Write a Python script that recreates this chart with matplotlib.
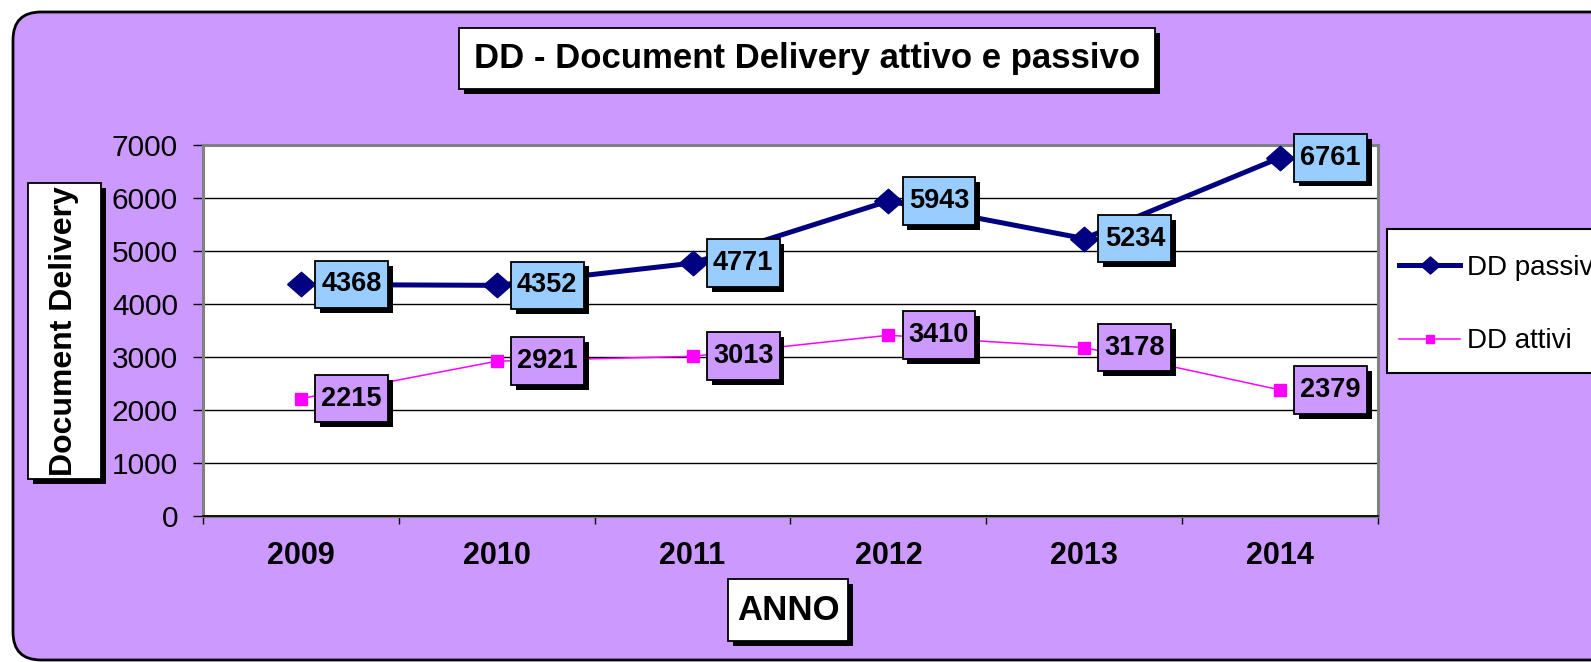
import matplotlib
matplotlib.use("Agg")
import matplotlib.pyplot as plt
from matplotlib.patches import FancyBboxPatch, Rectangle
from matplotlib.path import Path
from matplotlib.transforms import IdentityTransform
from matplotlib import patheffects

plt.rcParams['font.family'] = ['Liberation Sans', 'DejaVu Sans']

anni = ["2009", "2010", "2011", "2012", "2013", "2014"]
dd_passivi = [4368, 4352, 4771, 5943, 5234, 6761]
dd_attivi = [2215, 2921, 3013, 3410, 3178, 2379]
y_ticks = [0, 1000, 2000, 3000, 4000, 5000, 6000, 7000]

viola = "#CC99FF"
azzurro = "#99CCFF"
blu = "#000080"
magenta = "#FF00FF"
W, H = 1591, 662

# ombra nera come in excel
ombra = [patheffects.SimplePatchShadow(offset=(3.5, -3.5), shadow_rgbFace="black", alpha=1),
         patheffects.Normal()]


# box delle etichette: poco margine ai lati, di piu sopra e sotto
def box_excel(x0, y0, width, height, mutation_size):
    px = 0.23 * mutation_size
    py = 0.40 * mutation_size
    a, b = x0 - px, y0 - py
    c, d = x0 + width + px, y0 + height + py
    return Path([(a, b), (c, b), (c, d), (a, d), (a, b)], closed=True)


# riquadro bianco con ombra, coordinate in pixel dall'alto a sinistra
def box_text(fig, x0, y0, x1, y1, s, size, rotation=0):
    r = Rectangle((x0, H - y1), x1 - x0, y1 - y0, fc="white", ec="black", lw=1.3,
                  transform=IdentityTransform(), zorder=3)
    r.set_path_effects(ombra)
    fig.add_artist(r)
    fig.text((x0 + x1) / 2 / W, 1 - (y0 + y1) / 2 / H, s, fontsize=size, fontweight="bold",
             ha="center", va="center", rotation=rotation, zorder=4)


fig = plt.figure(figsize=(W / 100, H / 100), dpi=100)
fig.patch.set_facecolor("white")

# sfondo arrotondato (esce a destra come nell'originale)
sfondo = FancyBboxPatch((13, 2), 1700, 648, boxstyle="round,pad=0,rounding_size=28",
                        fc=viola, ec="black", lw=2, transform=IdentityTransform(), zorder=-5)
fig.patches.append(sfondo)

ax = fig.add_axes([203 / W, 1 - 516 / H, 1175 / W, 371 / H])
ax.set_facecolor("white")

x = list(range(len(anni)))
rombo = [(-1, 0), (0, 0.88), (1, 0), (0, -0.88), (-1, 0)]
ax.plot(x, dd_passivi, color=blu, lw=3.6, marker=rombo, ms=20, mec=blu, label="DD passivi", zorder=4)
ax.plot(x, dd_attivi, color=magenta, lw=1.1, marker="s", ms=9, mec=magenta, label="DD attivi", zorder=4)

for i in x:
    for v, col in ((dd_passivi[i], azzurro), (dd_attivi[i], viola)):
        t = ax.annotate(str(v), (i, v), xytext=(36.4, 0), textcoords="offset points",
                        ha="center", va="center", fontsize=19.5, fontweight="bold",
                        bbox=dict(boxstyle=box_excel, fc=col, ec="black", lw=1.3),
                        zorder=6, annotation_clip=False)
        t.get_bbox_patch().set_path_effects(ombra)

ax.set_xlim(-0.5, 5.5)
ax.set_ylim(0, 7000)
ax.set_yticks(y_ticks)
ax.tick_params(axis="y", labelsize=21.5, length=7, width=1, pad=11, color="black")
ax.yaxis.grid(True, color="black", lw=1.0)
ax.set_axisbelow(True)

# tick tra le categorie, etichette al centro
ax.set_xticks([i - 0.5 for i in range(len(anni) + 1)])
ax.set_xticklabels([])
ax.set_xticks(x, minor=True)
ax.set_xticklabels(anni, minor=True, fontsize=22, fontweight="bold")
ax.tick_params(axis="x", which="major", length=6, width=1, color="black")
ax.tick_params(axis="x", which="minor", length=0, pad=18)

for s in ax.spines.values():
    s.set_color("#808080")
    s.set_linewidth(2.2)
ax.axhline(0, color="black", lw=1.2, clip_on=False, zorder=5)

# cornice della legenda disegnata a parte, sotto gli assi
cornice = Rectangle((1387, H - 373), 400, 144, fc="white", ec="black", lw=1.5,
                    transform=IdentityTransform(), zorder=-1)
fig.add_artist(cornice)
leg = ax.legend(loc="upper left", bbox_to_anchor=(1399 / W, 1 - 255 / H),
                bbox_transform=fig.transFigure, borderaxespad=0, borderpad=0, fontsize=20,
                frameon=False, labelspacing=1.7, handlelength=2.2, handletextpad=0.25,
                markerscale=0.7)

box_text(fig, 459, 28, 1155, 89, "DD - Document Delivery attivo e passivo", 25)
box_text(fig, 28, 183, 101, 479, "Document Delivery", 23, rotation=90)
box_text(fig, 728, 579, 848, 641, "ANNO", 25)

fig.savefig("out.png", dpi=100)
